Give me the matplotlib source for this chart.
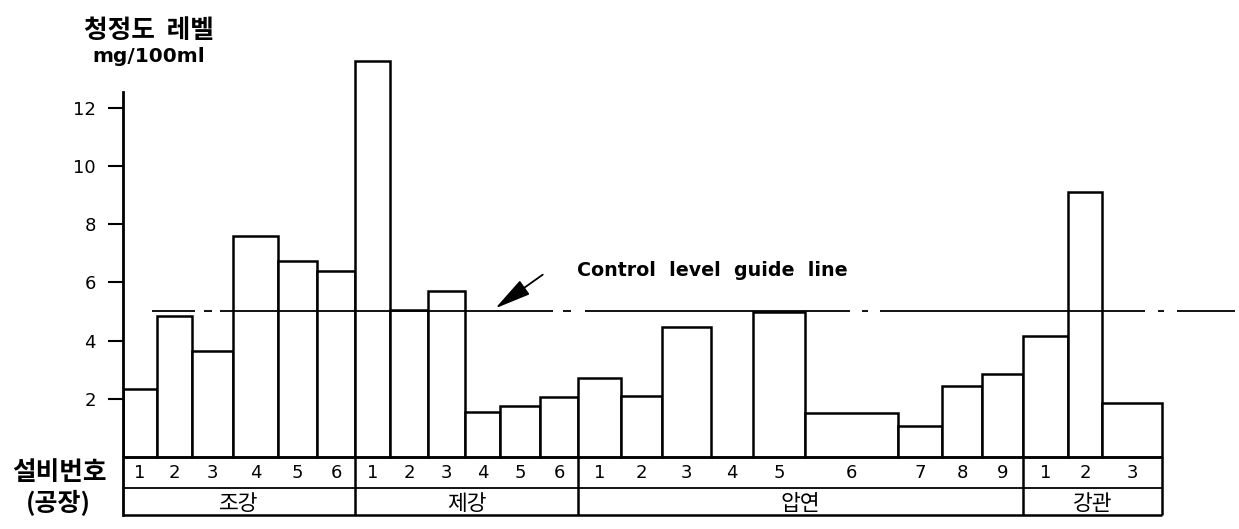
import matplotlib
matplotlib.use('Agg')
import matplotlib.pyplot as plt
import numpy as np

plt.rcParams['font.family'] = ['DejaVu Sans', 'Noto Sans CJK KR']
plt.rcParams['lines.scale_dashes'] = False

# 데이터 (공장별 설비 청정도)
plants = ['조강', '제강', '압연', '강관']
equip_labels = [
    ['1', '2', '3', '4', '5', '6'],
    ['1', '2', '3', '4', '5', '6'],
    ['1', '2', '3', '4', '5', '6', '7', '8', '9'],
    ['1', '2', '3'],
]
values_jogang = [2.35, 4.85, 3.65, 7.6, 6.75, 6.4]
values_jegang = [13.6, 5.05, 5.7, 1.55, 1.75, 2.05]
values_apyeon = [2.7, 2.1, 4.45, 0.0, 4.97, 1.5, 1.05, 2.45, 2.85]
values_ganggwan = [4.15, 9.1, 1.85]
guide_level = 5.0
y_ticks = [2, 4, 6, 8, 10, 12]

# 막대 폭 (레이아웃)
bar_w = [34, 35, 41, 45, 39, 38,
         35, 38, 37, 35, 40, 38,
         43, 41, 49, 42, 52, 93, 44, 40, 41,
         45, 34, 60]

values = values_jogang + values_jegang + values_apyeon + values_ganggwan
lefts = np.concatenate([[0], np.cumsum(bar_w)[:-1]])
centers = lefts + np.array(bar_w) / 2
total = sum(bar_w)

fig = plt.figure(figsize=(12.39, 5.29), dpi=100)
ax = fig.add_axes([123 / 1239, 14 / 529, 1116 / 1239, 474 / 529])
ax.set_xlim(0, 1116)
ax.set_ylim(-2, 14.3)

for s in ['top', 'right', 'bottom']:
    ax.spines[s].set_visible(False)
ax.spines['left'].set_linewidth(2)
ax.spines['left'].set_bounds(-2, 12.55)

ax.set_xticks([])
ax.set_yticks(y_ticks)
ax.tick_params(axis='y', direction='out', length=10.5, width=1.5, pad=9, labelsize=13)

# 막대
ax.bar(lefts, values, width=bar_w, align='edge', facecolor='white',
       edgecolor='black', linewidth=1.8, zorder=2)

# 관리 기준선 (일점쇄선)
dash_px = [43, 9, 8, 8, 333, 10, 8, 14, 265, 12, 6, 12, 265, 13, 6, 13, 58, 200]
ax.hlines(guide_level, 29, 1112, colors='black', linewidth=1.3, zorder=3,
          linestyles=[(0, [d * 0.72 for d in dash_px])])

ax.text(454, 6.4, 'Control  level  guide  line', fontsize=13.7, fontweight='bold',
        ha='left', va='center')
ax.annotate('', xy=(370, 5.05), xytext=(422, 6.32),
            arrowprops=dict(arrowstyle='-|>,head_length=1.5,head_width=0.35',
                            color='black', lw=1.3, mutation_scale=15))

# 하단 표
group_sizes = [len(v) for v in equip_labels]
bounds = np.cumsum(group_sizes)
group_edges = [0] + [sum(bar_w[:b]) for b in bounds]

ax.hlines(0, 0, total, colors='black', linewidth=1.8, zorder=4)
ax.hlines(-1.07, 0, total, colors='black', linewidth=1.3)
ax.hlines(-2, 0, total, colors='black', linewidth=1.8, clip_on=False)
ax.vlines(group_edges[1:], -2, 0, colors='black', linewidth=1.8, clip_on=False)

labels_flat = [l for g in equip_labels for l in g]
for c, l in zip(centers, labels_flat):
    ax.text(c, -0.54, l, ha='center', va='center', fontsize=13)

for i, p in enumerate(plants):
    ax.text((group_edges[i] + group_edges[i + 1]) / 2, -1.62, p, ha='center', va='center',
            fontsize=15.5, family=['Noto Sans CJK KR', 'DejaVu Sans'])

# 축 제목 및 좌측 라벨
fig.text(149 / 1239, 1 - 30 / 529, '청정도  레벨', ha='center', va='center', fontsize=18.5,
         fontweight='bold', family=['Noto Sans CJK KR', 'DejaVu Sans'])
fig.text(149 / 1239, 1 - 57 / 529, 'mg/100ml', ha='center', va='center', fontsize=14.5,
         fontweight='bold')
fig.text(59 / 1239, 1 - 472 / 529, '설비번호', ha='center', va='center', fontsize=18.5,
         fontweight='bold', family=['Noto Sans CJK KR', 'DejaVu Sans'])
fig.text(58 / 1239, 1 - 503 / 529, '(공장)', ha='center', va='center', fontsize=18,
         fontweight='bold', family=['Noto Sans CJK KR', 'DejaVu Sans'])

fig.savefig('out.png', dpi=100)
